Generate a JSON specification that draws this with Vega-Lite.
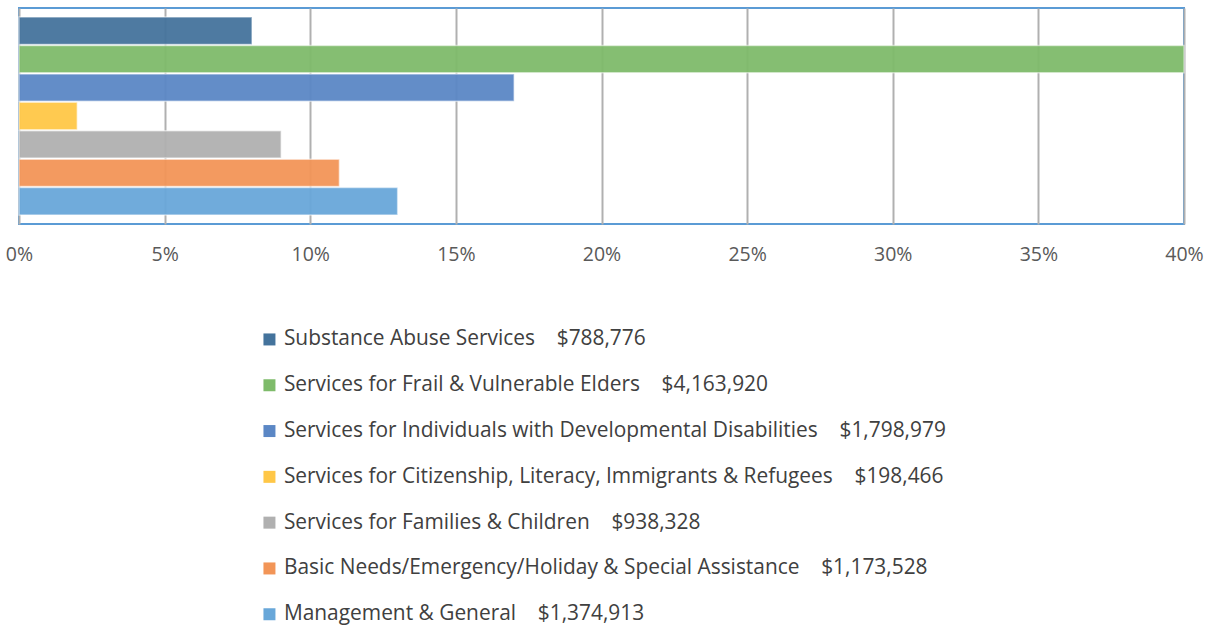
{
  "$schema": "https://vega.github.io/schema/vega-lite/v6.json",
  "width": 1165,
  "height": 216,
  "padding": {"left": 19, "top": 8, "right": 34, "bottom": 401},
  "autosize": {"type": "none"},
  "config": {
    "view": {"stroke": "#5B9BD5", "strokeWidth": 2},
    "font": "Open Sans"
  },
  "data": {
    "values": [
      {"category": "Substance Abuse Services", "amount": "$788,776", "pct": 0.08},
      {"category": "Services for Frail & Vulnerable Elders", "amount": "$4,163,920", "pct": 0.40},
      {"category": "Services for Individuals with Developmental Disabilities", "amount": "$1,798,979", "pct": 0.17},
      {"category": "Services for Citizenship, Literacy, Immigrants & Refugees", "amount": "$198,466", "pct": 0.02},
      {"category": "Services for Families & Children", "amount": "$938,328", "pct": 0.09},
      {"category": "Basic Needs/Emergency/Holiday & Special Assistance", "amount": "$1,173,528", "pct": 0.11},
      {"category": "Management & General", "amount": "$1,374,913", "pct": 0.13}
    ]
  },
  "transform": [
    {"calculate": "datum.category + '\u00a0\u00a0\u00a0\u00a0' + datum.amount", "as": "label"}
  ],
  "mark": {"type": "bar", "stroke": "#ffffff", "strokeOpacity": 0.5, "strokeWidth": 1.5, "fillOpacity": 0.95},
  "encoding": {
    "y": {
      "field": "category",
      "type": "nominal",
      "sort": null,
      "axis": null,
      "scale": {"paddingInner": 0.04, "paddingOuter": 0.32}
    },
    "x": {
      "field": "pct",
      "type": "quantitative",
      "scale": {"domain": [0, 0.4], "nice": false},
      "axis": {
        "format": ".0%",
        "values": [0, 0.05, 0.1, 0.15, 0.2, 0.25, 0.3, 0.35, 0.4],
        "domain": false,
        "ticks": false,
        "grid": true,
        "gridColor": "#B0B0B0",
        "gridWidth": 2,
        "labelFontSize": 19.5,
        "labelColor": "#595959",
        "labelPadding": 21,
        "labelFlush": false,
        "labelFont": "Open Sans",
        "title": null
      }
    },
    "color": {
      "field": "label",
      "type": "nominal",
      "sort": null,
      "scale": {
        "range": ["#44739C", "#7EBB6A", "#5B87C5", "#FFC747", "#B0B0B0", "#F29557", "#68A7D9"]
      },
      "legend": {
        "orient": "none",
        "legendX": 240,
        "legendY": 321,
        "direction": "vertical",
        "title": null,
        "symbolType": "square",
        "symbolSize": 144,
        "symbolStrokeWidth": 0,
        "labelFontSize": 20.9,
        "labelFont": "Open Sans",
        "labelColor": "#404040",
        "labelLimit": 900,
        "rowPadding": 23.8,
        "labelOffset": 4
      }
    }
  }
}
